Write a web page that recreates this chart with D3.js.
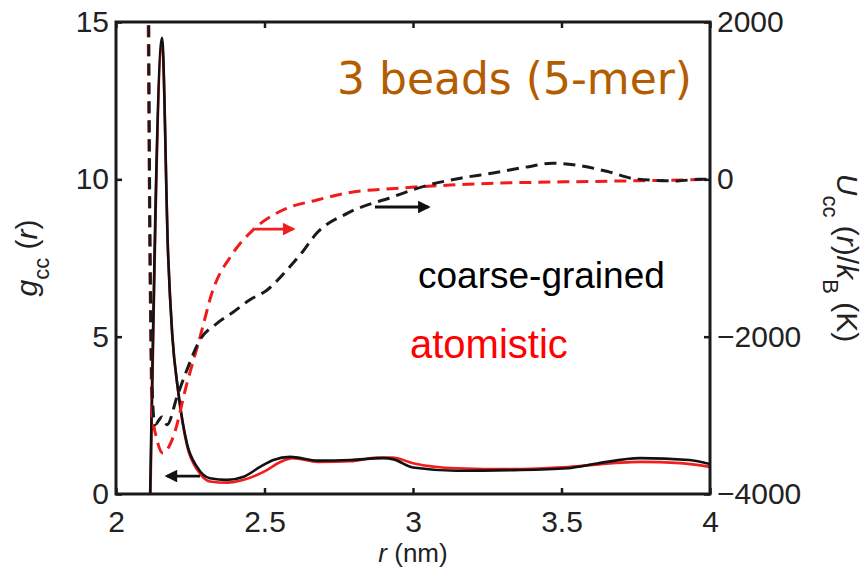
<!DOCTYPE html>
<html>
  <head>
    <meta charset="utf-8">
    <title>gcc and Ucc, 3 beads</title>
    <script src="https://cdn.jsdelivr.net/npm/d3@7"></script>
    <style>
      body { margin: 0; background: #fff; }
      text { fill: #222; }
    </style>
  </head>

  <body>
    <svg id="chart" width="865" height="574"></svg>

    <script>
      // data
      // g_cc(r), left axis
      cgR = [2.115, 2.155, 2.175, 2.189, 2.209, 2.239, 2.273, 2.316, 2.374, 2.43, 2.485, 2.53, 2.586, 2.68, 2.79, 2.9, 2.935, 3.0, 3.147, 3.34, 3.52, 3.62, 3.764, 3.93, 4.0];
      cgG = [0, 14.5, 7.7, 5.1, 3.3, 1.6, 0.86, 0.5, 0.45, 0.55, 0.86, 1.08, 1.18, 1.06, 1.08, 1.14, 1.1, 0.84, 0.74, 0.76, 0.82, 0.97, 1.14, 1.08, 0.95];
      atR = [2.116, 2.155, 2.176, 2.19, 2.21, 2.24, 2.275, 2.316, 2.374, 2.43, 2.508, 2.55, 2.595, 2.68, 2.79, 2.88, 2.93, 3.0, 3.147, 3.34, 3.52, 3.764, 3.9, 4.0];
      atG = [0, 14.3, 7.5, 5.0, 3.2, 1.5, 0.75, 0.4, 0.36, 0.45, 0.76, 1.0, 1.14, 1.02, 1.04, 1.16, 1.16, 0.98, 0.82, 0.79, 0.86, 1.02, 0.98, 0.86];

      // U_cc(r)/kB, right axis
      cgUR = [2.110, 2.113, 2.118, 2.125, 2.131, 2.155, 2.172, 2.205, 2.239, 2.283, 2.34, 2.394, 2.451, 2.508, 2.576, 2.62, 2.677, 2.78, 2.93, 3.05, 3.16, 3.27, 3.38, 3.47, 3.55, 3.66, 3.75, 3.89, 3.96, 4.0];
      cgU = [2200, 0, -2000, -2930, -3120, -3020, -3120, -2770, -2420, -2040, -1830, -1690, -1530, -1410, -1150, -960, -680, -430, -225, -75, 15, 80, 155, 205, 180, 95, 5, -20, 0, 0];
      atUR = [2.108, 2.112, 2.117, 2.121, 2.138, 2.158, 2.192, 2.239, 2.283, 2.323, 2.394, 2.461, 2.562, 2.677, 2.778, 2.956, 3.125, 3.293, 3.461, 3.687, 3.909, 4.0];
      atU = [2200, 0, -2000, -2930, -3310, -3480, -3280, -2590, -2005, -1445, -937, -645, -390, -263, -174, -111, -73, -47, -35, -22, -9, 0];

      xTicks = [2, 2.5, 3, 3.5, 4];
      gTicks = [0, 5, 10, 15];
      uTicks = [-4000, -2000, 0, 2000];

      sans = "Liberation Sans, Arial, sans-serif";

      chart = d3.select("#chart");
      margin = {top: 22, bottom: 80, left: 116, right: 155};
      width = 865;
      height = 574;

      x = d3.scaleLinear().domain([2, 4]).range([margin.left, width - margin.right]);
      yL = d3.scaleLinear().domain([0, 15]).range([height - margin.bottom, margin.top]);
      yR = d3.scaleLinear().domain([-4000, 2000]).range([height - margin.bottom, margin.top]);

      defs = chart.append("defs");
      defs.append("clipPath").attr("id", "plotClip")
        .append("rect")
          .attr("x", margin.left)
          .attr("y", margin.top)
          .attr("width", x(4) - x(2))
          .attr("height", yL(0) - yL(15));

      plot = chart.append("g").attr("clip-path", "url(#plotClip)");

      gLine = d3.line().x(d => x(d[0])).y(d => yL(d[1])).curve(d3.curveMonotoneX);
      uLine = d3.line().x(d => x(d[0])).y(d => yR(d[1])).curve(d3.curveMonotoneX);

      // solid g(r) curves
      plot.append("path")
        .attr("d", gLine(d3.zip(atR, atG)))
        .attr("fill", "none").attr("stroke", "#f01e1e").attr("stroke-width", 2.6);
      plot.append("path")
        .attr("d", gLine(d3.zip(cgR, cgG)))
        .attr("fill", "none").attr("stroke", "#111").attr("stroke-width", 2.6);

      // dashed U(r) curves
      plot.append("path")
        .attr("d", uLine(d3.zip(atUR, atU)))
        .attr("fill", "none").attr("stroke", "#f21b1b").attr("stroke-width", 3)
        .attr("stroke-dasharray", "12,7");
      plot.append("path")
        .attr("d", uLine(d3.zip(cgUR, cgU)))
        .attr("fill", "none").attr("stroke", "#1a1a1a").attr("stroke-width", 3)
        .attr("stroke-dasharray", "12,7");

      // arrows telling which axis a curve belongs to
      [["arrBlack", "#111"], ["arrRed", "#f01e1e"]].forEach(([id, c]) => {
        defs.append("marker").attr("id", id)
          .attr("viewBox", "0 0 10 10").attr("refX", 8).attr("refY", 5)
          .attr("markerWidth", 5.5).attr("markerHeight", 4.5)
          .attr("orient", "auto-start-reverse")
          .append("path").attr("d", "M0,0L10,5L0,10z").attr("fill", c);
      });
      // [from r, to r, value, axis, marker, colour]
      arrows = [
        [2.283, 2.172, 0.57, "g", "arrBlack", "#111"],
        [2.468, 2.596, -632, "u", "arrRed", "#f01e1e"],
        [2.872, 3.051, -352, "u", "arrBlack", "#111"]
      ];
      arrows.forEach(a => {
        yy = a[3] == "g" ? yL(a[2]) : yR(a[2]);
        chart.append("line")
          .attr("x1", x(a[0])).attr("x2", x(a[1]))
          .attr("y1", yy).attr("y2", yy)
          .attr("stroke", a[5]).attr("stroke-width", 2.8)
          .attr("marker-end", "url(#" + a[4] + ")");
      });

      // axes, ticks pointing in
      fmt = d3.format("");
      axisB = chart.append("g").attr("transform", "translate(0," + yL(0) + ")")
        .call(d3.axisBottom(x).tickValues(xTicks).tickFormat(fmt).tickSizeInner(-6).tickSizeOuter(0).tickPadding(17));
      axisT = chart.append("g").attr("transform", "translate(0," + yL(15) + ")")
        .call(d3.axisTop(x).tickValues(xTicks).tickFormat("").tickSizeInner(-6).tickSizeOuter(0));
      axisL = chart.append("g").attr("transform", "translate(" + x(2) + ",0)")
        .call(d3.axisLeft(yL).tickValues(gTicks).tickSizeInner(-6).tickSizeOuter(0).tickPadding(7));
      axisR = chart.append("g").attr("transform", "translate(" + x(4) + ",0)")
        .call(d3.axisRight(yR).tickValues(uTicks).tickFormat(d3.format("d")).tickSizeInner(-6).tickSizeOuter(0).tickPadding(7));

      [axisB, axisT, axisL, axisR].forEach(ax => {
        ax.select(".domain").remove();
        ax.selectAll(".tick line").attr("stroke", "#1a1a1a").attr("stroke-width", 2.5);
        ax.selectAll(".tick text")
          .attr("font-family", sans)
          .attr("font-size", 30).attr("fill", "#222");
      });

      chart.append("rect")
        .attr("x", x(2)).attr("y", yL(15))
        .attr("width", x(4) - x(2)).attr("height", yL(0) - yL(15))
        .attr("fill", "none").attr("stroke", "#1a1a1a").attr("stroke-width", 3);

      // axis titles
      xl = chart.append("text")
        .attr("x", (x(2) + x(4)) / 2).attr("y", 562)
        .attr("text-anchor", "middle").attr("font-family", sans).attr("font-size", 26);
      xl.append("tspan").attr("font-style", "italic").text("r");
      xl.append("tspan").text(" (nm)");

      gl = chart.append("text")
        .attr("transform", "translate(37," + ((yL(0) + yL(15)) / 2) + ") rotate(-90)")
        .attr("text-anchor", "middle").attr("font-family", sans).attr("font-size", 30);
      gl.append("tspan").attr("font-style", "italic").text("g");
      gl.append("tspan").attr("font-size", 22).attr("dy", 12).text("cc");
      gl.append("tspan").attr("dy", -12).text(" (");
      gl.append("tspan").attr("font-style", "italic").text("r");
      gl.append("tspan").text(")");

      ul = chart.append("text")
        .attr("transform", "translate(837," + ((yL(0) + yL(15)) / 2) + ") rotate(90)")
        .attr("text-anchor", "middle").attr("font-family", sans).attr("font-size", 30);
      ul.append("tspan").attr("font-style", "italic").text("U");
      ul.append("tspan").attr("font-size", 22).attr("dy", 14).text("cc");
      ul.append("tspan").attr("dy", -14).text(" (");
      ul.append("tspan").attr("font-style", "italic").text("r");
      ul.append("tspan").text(")/");
      ul.append("tspan").attr("font-style", "italic").text("k");
      ul.append("tspan").attr("font-size", 22).attr("dy", 14).text("B");
      ul.append("tspan").attr("dy", -14).text(" (K)");

      // annotations
      chart.append("text")
        .attr("x", 337).attr("y", 94)
        .style("font-family", "'Comic Sans MS', 'DejaVu Sans', sans-serif")
        .style("font-size", "44px")
        .style("fill", "#b35c00")
        .text("3 beads (5-mer)");
      chart.append("text")
        .attr("x", 418).attr("y", 288)
        .attr("font-family", sans).attr("font-size", 37).style("fill", "#000")
        .text("coarse-grained");
      chart.append("text")
        .attr("x", 410).attr("y", 358)
        .attr("font-family", sans).attr("font-size", 40).style("fill", "#ff0000")
        .text("atomistic");
    </script>
  </body>
</html>
